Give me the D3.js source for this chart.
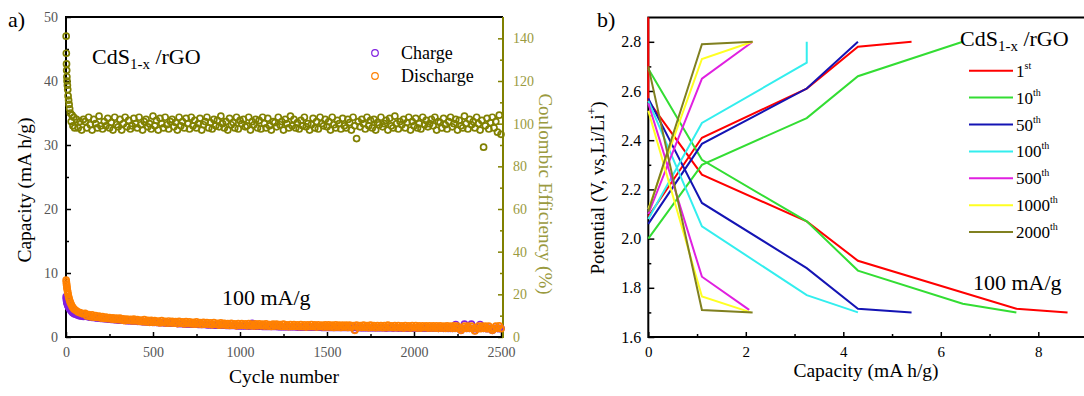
<!DOCTYPE html>
<html>
<head>
<meta charset="utf-8">
<script src="https://cdn.jsdelivr.net/npm/d3@7"></script>
<style>
  body { margin: 0; background: #fff; }
  svg { display: block; font-family: "Liberation Serif", "Times New Roman", serif; }
</style>
</head>
<body>
<svg id="chart" width="1084" height="396"></svg>
<script>
// ---- panel a: cycling ----
const cycles = [1, 2, 3, 4, 5, 6, 8, 10, 12, 15, 18, 21, 25, 30, 35, 40, 45, 50, 60, 70, 80, 90, 100,
  110, 120, 130, 140, 150, 160, 170, 180, 190, 200,
  210, 220, 230, 240, 250, 260, 270, 280, 290, 300,
  310, 320, 330, 340, 350, 360, 370, 380, 390, 400,
  410, 420, 430, 440, 450, 460, 470, 480, 490, 500,
  510, 520, 530, 540, 550, 560, 570, 580, 590, 600,
  610, 620, 630, 640, 650, 660, 670, 680, 690, 700,
  710, 720, 730, 740, 750, 760, 770, 780, 790, 800,
  810, 820, 830, 840, 850, 860, 870, 880, 890, 900,
  910, 920, 930, 940, 950, 960, 970, 980, 990, 1000,
  1010, 1020, 1030, 1040, 1050, 1060, 1070, 1080, 1090, 1100,
  1110, 1120, 1130, 1140, 1150, 1160, 1170, 1180, 1190, 1200,
  1210, 1220, 1230, 1240, 1250, 1260, 1270, 1280, 1290, 1300,
  1310, 1320, 1330, 1340, 1350, 1360, 1370, 1380, 1390, 1400,
  1410, 1420, 1430, 1440, 1450, 1460, 1470, 1480, 1490, 1500,
  1510, 1520, 1530, 1540, 1550, 1560, 1570, 1580, 1590, 1600,
  1610, 1620, 1630, 1640, 1650, 1660, 1670, 1680, 1690, 1700,
  1710, 1720, 1730, 1740, 1750, 1760, 1770, 1780, 1790, 1800,
  1810, 1820, 1830, 1840, 1850, 1860, 1870, 1880, 1890, 1900,
  1910, 1920, 1930, 1940, 1950, 1960, 1970, 1980, 1990, 2000,
  2010, 2020, 2030, 2040, 2050, 2060, 2070, 2080, 2090, 2100,
  2110, 2120, 2130, 2140, 2150, 2160, 2170, 2180, 2190, 2200,
  2210, 2220, 2230, 2240, 2250, 2260, 2270, 2280, 2290, 2300,
  2310, 2320, 2330, 2340, 2350, 2360, 2370, 2380, 2390, 2400,
  2410, 2420, 2430, 2440, 2450, 2460, 2470, 2480, 2490, 2500];

const chargeCap = [6.3, 6.0, 5.8, 5.6, 5.5, 5.3, 5.2, 5.0, 4.9, 4.7, 4.6, 4.4, 4.3, 4.1, 3.9, 3.8, 3.7, 3.6, 3.5, 3.4, 3.3, 3.3, 3.2,
  3.25, 3.2, 3.15, 3.1, 3.05, 3.05, 3.0, 2.95, 2.95, 2.9,
  2.9, 2.85, 2.85, 2.8, 2.8, 2.75, 2.75, 2.7, 2.7, 2.65,
  2.65, 2.65, 2.6, 2.6, 2.55, 2.55, 2.55, 2.5, 2.5, 2.5,
  2.45, 2.45, 2.45, 2.4, 2.4, 2.4, 2.35, 2.35, 2.35, 2.3,
  2.3, 2.3, 2.25, 2.25, 2.25, 2.25, 2.2, 2.2, 2.2, 2.15,
  2.15, 2.15, 2.15, 2.1, 2.1, 2.1, 2.1, 2.05, 2.05, 2.05,
  2.05, 2.0, 2.0, 2.0, 2.0, 1.95, 1.95, 1.95, 1.95, 1.95,
  1.9, 1.9, 1.9, 1.9, 1.9, 1.85, 1.85, 1.85, 1.85, 1.85,
  1.85, 1.8, 1.8, 1.8, 1.8, 1.8, 1.8, 1.75, 1.75, 1.75,
  1.75, 1.75, 1.75, 1.75, 1.7, 1.7, 2.15, 1.7, 1.7, 1.7,
  1.7, 1.7, 1.65, 1.65, 1.65, 1.65, 1.65, 1.65, 1.65, 1.65,
  1.65, 1.6, 1.6, 1.6, 1.6, 1.6, 1.6, 1.6, 1.6, 1.6,
  1.6, 1.6, 1.55, 1.55, 1.55, 1.55, 1.55, 1.55, 1.55, 1.55,
  1.55, 1.55, 1.55, 1.55, 1.55, 1.55, 1.5, 1.5, 1.5, 1.5,
  1.5, 1.5, 1.5, 1.5, 1.5, 1.5, 1.5, 1.5, 1.5, 1.5,
  1.5, 1.5, 1.5, 1.5, 1.5, 1.1, 1.5, 1.5, 1.45, 1.45,
  1.45, 1.45, 1.45, 1.45, 1.45, 1.45, 1.45, 1.45, 1.45, 1.45,
  1.45, 1.45, 1.45, 1.4, 1.45, 1.45, 1.45, 1.4, 1.45, 1.45,
  1.4, 1.45, 1.4, 1.4, 1.45, 1.4, 1.4, 1.4, 1.4, 1.4,
  1.4, 1.4, 1.4, 1.4, 1.4, 1.4, 1.4, 1.4, 1.4, 1.4,
  1.4, 1.4, 1.4, 1.35, 1.4, 1.4, 1.35, 1.4, 1.35, 1.35,
  1.35, 1.35, 1.35, 1.95, 1.35, 1.35, 1.05, 1.35, 2.0, 1.35,
  1.35, 1.35, 2.0, 1.35, 1.0, 1.35, 1.35, 1.95, 1.35, 1.35,
  1.35, 1.3, 1.35, 1.35, 1.05, 1.3, 1.35, 1.35, 1.3, 1.35];

const dischargeCap = [8.9, 8.6, 8.3, 8.1, 7.8, 7.6, 7.3, 7.0, 6.7, 6.3, 6.0, 5.7, 5.4, 5.1, 4.8, 4.6, 4.4, 4.3, 4.1, 3.9, 3.8, 3.7, 3.6,
  3.7, 3.3, 3.5, 3.15, 3.45, 3.1, 3.35, 3.05, 3.25, 2.95,
  3.2, 2.9, 3.1, 2.85, 3.05, 2.8, 3.0, 2.75, 2.95, 2.7,
  2.95, 2.65, 2.85, 2.55, 2.8, 2.6, 2.75, 2.5, 2.8, 2.5,
  2.7, 2.45, 2.65, 2.4, 2.7, 2.35, 2.6, 2.3, 2.6, 2.3,
  2.55, 2.3, 2.5, 2.2, 2.55, 2.25, 2.45, 2.15, 2.5, 2.2,
  2.45, 2.15, 2.4, 2.1, 2.45, 2.15, 2.35, 2.05, 2.4, 2.1,
  2.35, 2.05, 2.3, 2.0, 2.35, 2.05, 2.25, 1.95, 2.3, 2.0,
  2.25, 1.95, 2.2, 1.9, 2.25, 1.95, 2.15, 1.85, 2.2, 1.9,
  2.15, 1.85, 2.1, 1.8, 2.15, 1.85, 2.05, 1.75, 2.1, 1.8,
  2.1, 1.8, 2.05, 1.75, 2.1, 1.75, 2.0, 1.7, 2.05, 1.75,
  2.05, 1.75, 2.0, 1.7, 2.05, 1.7, 1.95, 1.65, 2.0, 1.7,
  2.0, 1.7, 1.95, 1.65, 2.0, 1.65, 1.9, 1.6, 1.95, 1.65,
  1.95, 1.65, 1.9, 1.6, 1.95, 1.6, 1.9, 1.55, 1.9, 1.6,
  1.95, 1.6, 1.9, 1.55, 1.9, 1.6, 1.85, 1.55, 1.9, 1.55,
  1.9, 1.55, 1.85, 1.5, 1.9, 1.55, 1.85, 1.5, 1.85, 1.55,
  1.85, 1.5, 1.85, 1.5, 1.8, 1.05, 1.85, 1.5, 1.8, 1.5,
  1.85, 1.5, 1.8, 1.45, 1.85, 1.5, 1.8, 1.45, 1.8, 1.5,
  1.8, 1.45, 1.8, 1.45, 1.85, 1.5, 1.75, 1.45, 1.8, 1.45,
  1.8, 1.45, 1.75, 1.4, 1.8, 1.45, 1.75, 1.4, 1.8, 1.45,
  1.8, 1.4, 1.75, 1.4, 1.75, 1.45, 1.75, 1.4, 1.75, 1.4,
  1.75, 1.4, 1.75, 1.35, 1.75, 1.4, 1.7, 1.35, 1.75, 1.4,
  1.7, 1.35, 1.75, 1.35, 1.7, 1.4, 1.05, 1.35, 1.7, 1.35,
  1.7, 1.35, 1.7, 1.3, 0.95, 1.35, 1.7, 1.3, 1.7, 1.35,
  1.7, 1.3, 1.7, 1.3, 1.05, 1.3, 1.7, 1.35, 1.75, 1.3];

const coulombicEff = [141, 133, 128, 125, 122, 120, 118, 116, 113, 111, 109, 107, 105, 101, 104, 99, 103, 98, 102, 98, 101, 97, 102,
  101, 98, 103, 99.5, 97, 102, 100, 98, 103.5, 99,
  97.5, 101, 99, 102.5, 98, 100.5, 97, 103, 99.5, 98.5,
  102, 97, 100, 103, 98.5, 101.5, 97.5, 99, 102.5, 100,
  98, 103, 99.5, 97, 101, 102, 98.5, 100, 97.5, 103.5,
  99, 101.5, 97, 102.5, 100, 98, 103, 99.5, 97.5, 101,
  102, 98.5, 100.5, 97, 103, 99, 101, 98, 102.5, 100,
  97.5, 103, 99, 101.5, 98, 100, 102.5, 97, 99.5, 101,
  103, 98, 100.5, 97.5, 102, 99, 101.5, 98.5, 103.5, 100,
  98, 101, 97, 102.5, 99.5, 100.5, 98, 103, 97.5, 101.5,
  100, 102, 98.5, 99, 103, 97, 101, 99.5, 102, 98,
  101.5, 97.5, 103, 100, 98, 102.5, 99, 97, 101, 100.5,
  98.5, 103, 99.5, 101, 97, 102, 100, 98, 103.5, 99,
  102, 98, 100.5, 97.5, 101.5, 99, 103, 98.5, 100, 97,
  99.5, 102.5, 98, 101, 97.5, 103, 100, 99, 102, 98.5,
  101, 97, 103, 99.5, 98, 101.5, 100, 97.5, 102.5, 99,
  98, 102, 100.5, 97, 103, 99, 93, 101, 98.5, 102,
  100, 97.5, 103, 99, 101.5, 98, 102, 97, 100.5, 99.5,
  103, 98.5, 100, 101.5, 97, 102.5, 99, 98, 103.5, 100,
  97.5, 101, 99.5, 102, 98, 100.5, 103, 97, 101, 99,
  102.5, 98, 100, 97.5, 103, 99.5, 101.5, 98.5, 100, 102,
  99, 103, 97, 101, 100.5, 98, 102.5, 99.5, 97.5, 101,
  103, 98.5, 100, 102, 97, 101.5, 99, 98, 103.5, 100,
  97.5, 102, 99.5, 101, 98, 103, 100, 97, 101.5, 89,
  99, 102.5, 97.5, 100.5, 103, 98, 101, 96, 104, 95];

const cycleTicks = [0, 500, 1000, 1500, 2000, 2500];
const capTicksA = [0, 10, 20, 30, 40, 50];
const ceTicks = [0, 20, 40, 60, 80, 100, 120, 140];

// ---- panel b: voltage profiles ----
const cycleNames = ["1", "10", "50", "100", "500", "1000", "2000"];
const cycleSuffix = ["st", "th", "th", "th", "th", "th", "th"];
const curveColors = ["#ff0000", "#33dd33", "#1414b4", "#33eeee", "#e020e0", "#ffff22", "#808020"];

const chargeCurves = [
  [[0, 2.09], [1.1, 2.41], [3.25, 2.61], [4.3, 2.78], [5.4, 2.80]],
  [[0, 2.0], [1.1, 2.3], [3.25, 2.49], [4.3, 2.66], [6.45, 2.80]],
  [[0, 2.06], [1.1, 2.385], [3.25, 2.61], [4.3, 2.80]],
  [[0, 2.08], [1.1, 2.47], [3.25, 2.715], [3.25, 2.80]],
  [[0, 2.1], [1.1, 2.65], [2.14, 2.80]],
  [[0, 2.12], [1.1, 2.73], [2.14, 2.80]],
  [[0, 2.11], [1.1, 2.79], [2.14, 2.80]]
];
const dischargeCurves = [
  [[0, 2.9], [0, 2.56], [1.1, 2.26], [3.25, 2.07], [4.3, 1.91], [7.55, 1.715], [8.6, 1.70]],
  [[0, 2.69], [1.1, 2.32], [3.25, 2.07], [4.3, 1.87], [6.45, 1.735], [7.55, 1.70]],
  [[0, 2.57], [1.1, 2.145], [3.25, 1.88], [4.3, 1.715], [5.4, 1.70]],
  [[0, 2.56], [1.1, 2.05], [3.25, 1.77], [4.3, 1.70]],
  [[0, 2.55], [1.1, 1.845], [2.07, 1.71]],
  [[0, 2.52], [1.1, 1.765], [2.1, 1.70]],
  [[0, 2.70], [1.1, 1.71], [2.14, 1.70]]
];

const capTicksB = [0, 2, 4, 6, 8];
const voltTicks = [1.6, 1.8, 2.0, 2.2, 2.4, 2.6, 2.8];

const svg = d3.select("#chart");
const olive = "#808000";
const oliveText = "#9a9a40";

function drawAxis(gen, tr, color, textColor, size) {
  const g = svg.append("g").attr("transform", tr).call(gen);
  g.select(".domain").remove();
  g.selectAll(".tick line").attr("stroke", color).attr("stroke-width", 1.5);
  g.selectAll(".tick text")
    .attr("fill", textColor)
    .style("font-size", size + "px")
    .style("font-family", "Liberation Serif, serif");
  return g;
}

// ========== panel a ==========
const xA = d3.scaleLinear().domain([0, 2500]).range([66, 501]);
const yA = d3.scaleLinear().domain([0, 50]).range([337, 17]);
const yCE = d3.scaleLinear().domain([0, 150]).range([337, 17]);

drawAxis(d3.axisBottom(xA).tickValues(cycleTicks).tickSize(-5).tickPadding(10).tickFormat(d3.format("d")), "translate(0,337)", "#000", "#555", 14);
drawAxis(d3.axisBottom(xA).tickValues([250, 750, 1250, 1750, 2250]).tickSize(-3).tickFormat(""), "translate(0,337)", "#000", "#555", 14);
drawAxis(d3.axisLeft(yA).tickValues(capTicksA).tickSize(-5).tickPadding(8), "translate(66,0)", "#000", "#555", 14);
drawAxis(d3.axisLeft(yA).tickValues([5, 15, 25, 35, 45]).tickSize(-3).tickFormat(""), "translate(66,0)", "#000", "#555", 14);
drawAxis(d3.axisRight(yCE).tickValues(ceTicks).tickSize(-5).tickPadding(10), "translate(503,0)", olive, oliveText, 14);
drawAxis(d3.axisRight(yCE).tickValues([10, 30, 50, 70, 90, 110, 130]).tickSize(-3).tickFormat(""), "translate(503,0)", olive, oliveText, 14);

// frame
svg.append("path").attr("d", "M503,17H66V337H503").attr("fill", "none").attr("stroke", "#000").attr("stroke-width", 2);
svg.append("line").attr("x1", 503).attr("x2", 503).attr("y1", 17).attr("y2", 338)
  .attr("stroke", olive).attr("stroke-width", 2);

// markers
function scatter(values, yScale, color) {
  svg.append("g").selectAll("circle")
    .data(values)
    .enter()
    .append("circle")
    .attr("cx", (d, i) => xA(cycles[i]))
    .attr("cy", d => yScale(d))
    .attr("r", 3)
    .attr("fill", "none")
    .attr("stroke", color)
    .attr("stroke-width", 1.7);
}
scatter(coulombicEff, yCE, olive);
scatter(chargeCap, yA, "#8020e0");
scatter(dischargeCap, yA, "#ff8000");

// legend a
[["Charge", "#8020e0", 53], ["Discharge", "#ff8000", 76]].forEach(([name, c, y]) => {
  svg.append("circle").attr("cx", 375).attr("cy", y).attr("r", 3.3)
    .attr("fill", "none").attr("stroke", c).attr("stroke-width", 1.2);
  svg.append("text").attr("x", 401).attr("y", y + 6).style("font-size", "18px").text(name);
});

// texts a
svg.append("text").attr("x", 8).attr("y", 27).style("font-size", "22px").text("a)");
const titleA = svg.append("text").attr("x", 92).attr("y", 64).style("font-size", "22px");
titleA.append("tspan").text("CdS");
titleA.append("tspan").attr("dy", 5).style("font-size", "15px").text("1-x");
titleA.append("tspan").attr("dy", -5).text(" /rGO");
svg.append("text").attr("x", 222).attr("y", 305).style("font-size", "22px").text("100 mA/g");
svg.append("text").attr("x", 284).attr("y", 383).attr("text-anchor", "middle")
  .style("font-size", "19.5px").text("Cycle number");
svg.append("text").attr("transform", "translate(31,190) rotate(-90)").attr("text-anchor", "middle")
  .style("font-size", "19.5px").text("Capacity (mA h/g)");
svg.append("text").attr("transform", "translate(539,194) rotate(90)").attr("text-anchor", "middle")
  .attr("fill", oliveText).style("font-size", "19px").text("Coulombic Efficiency (%)");

// ========== panel b ==========
const xB = d3.scaleLinear().domain([0, 10]).range([648.3, 1135.8]);
const yB = d3.scaleLinear().domain([1.6, 2.9]).range([337, 17.2]);

drawAxis(d3.axisBottom(xB).tickValues(capTicksB).tickSize(-5).tickPadding(9.5).tickFormat(d3.format("d")), "translate(0,337)", "#000", "#000", 15);
drawAxis(d3.axisBottom(xB).tickValues([1, 3, 5, 7, 9]).tickSize(-3).tickFormat(""), "translate(0,337)", "#000", "#000", 15);
drawAxis(d3.axisLeft(yB).tickValues(voltTicks).tickSize(-6).tickPadding(7).tickFormat(d3.format(".1f")), "translate(648.3,0)", "#000", "#000", 16);
drawAxis(d3.axisLeft(yB).tickValues([1.7, 1.9, 2.1, 2.3, 2.5, 2.7]).tickSize(-3).tickFormat(""), "translate(648.3,0)", "#000", "#000", 16);

svg.append("rect").attr("x", 648.3).attr("y", 17.5).attr("width", 500).attr("height", 319.5)
  .attr("fill", "none").attr("stroke", "#000").attr("stroke-width", 2);

const line = d3.line().x(d => xB(d[0])).y(d => yB(d[1]));
cycleNames.forEach((name, i) => {
  [chargeCurves[i], dischargeCurves[i]].forEach(pts => {
    svg.append("path")
      .datum(pts)
      .attr("d", line)
      .attr("fill", "none")
      .attr("stroke", curveColors[i])
      .attr("stroke-width", 2);
  });
});

// legend b
cycleNames.forEach((name, i) => {
  const y = 70.7 + i * 26.9;
  svg.append("line").attr("x1", 969).attr("x2", 1013).attr("y1", y).attr("y2", y)
    .attr("stroke", curveColors[i]).attr("stroke-width", 2);
  const t = svg.append("text").attr("x", 1016).attr("y", y + 6).style("font-size", "17px");
  t.append("tspan").text(name);
  t.append("tspan").attr("dy", -8).style("font-size", "10px").text(cycleSuffix[i]);
});

svg.append("text").attr("x", 597).attr("y", 27).style("font-size", "22px").text("b)");
const titleB = svg.append("text").attr("x", 960).attr("y", 46).style("font-size", "22px");
titleB.append("tspan").text("CdS");
titleB.append("tspan").attr("dy", 5).style("font-size", "15px").text("1-x");
titleB.append("tspan").attr("dy", -5).text(" /rGO");
svg.append("text").attr("x", 973).attr("y", 290).style("font-size", "22px").text("100 mA/g");
svg.append("text").attr("x", 866).attr("y", 377).attr("text-anchor", "middle")
  .style("font-size", "19.5px").text("Capacity (mA h/g)");
const yLabB = svg.append("text").attr("transform", "translate(604,188) rotate(-90)")
  .attr("text-anchor", "middle").style("font-size", "19px");
yLabB.append("tspan").text("Potential (V, vs,Li/Li");
yLabB.append("tspan").attr("dy", -8).style("font-size", "12px").text("+");
yLabB.append("tspan").attr("dy", 8).text(")");
</script>
</body>
</html>
